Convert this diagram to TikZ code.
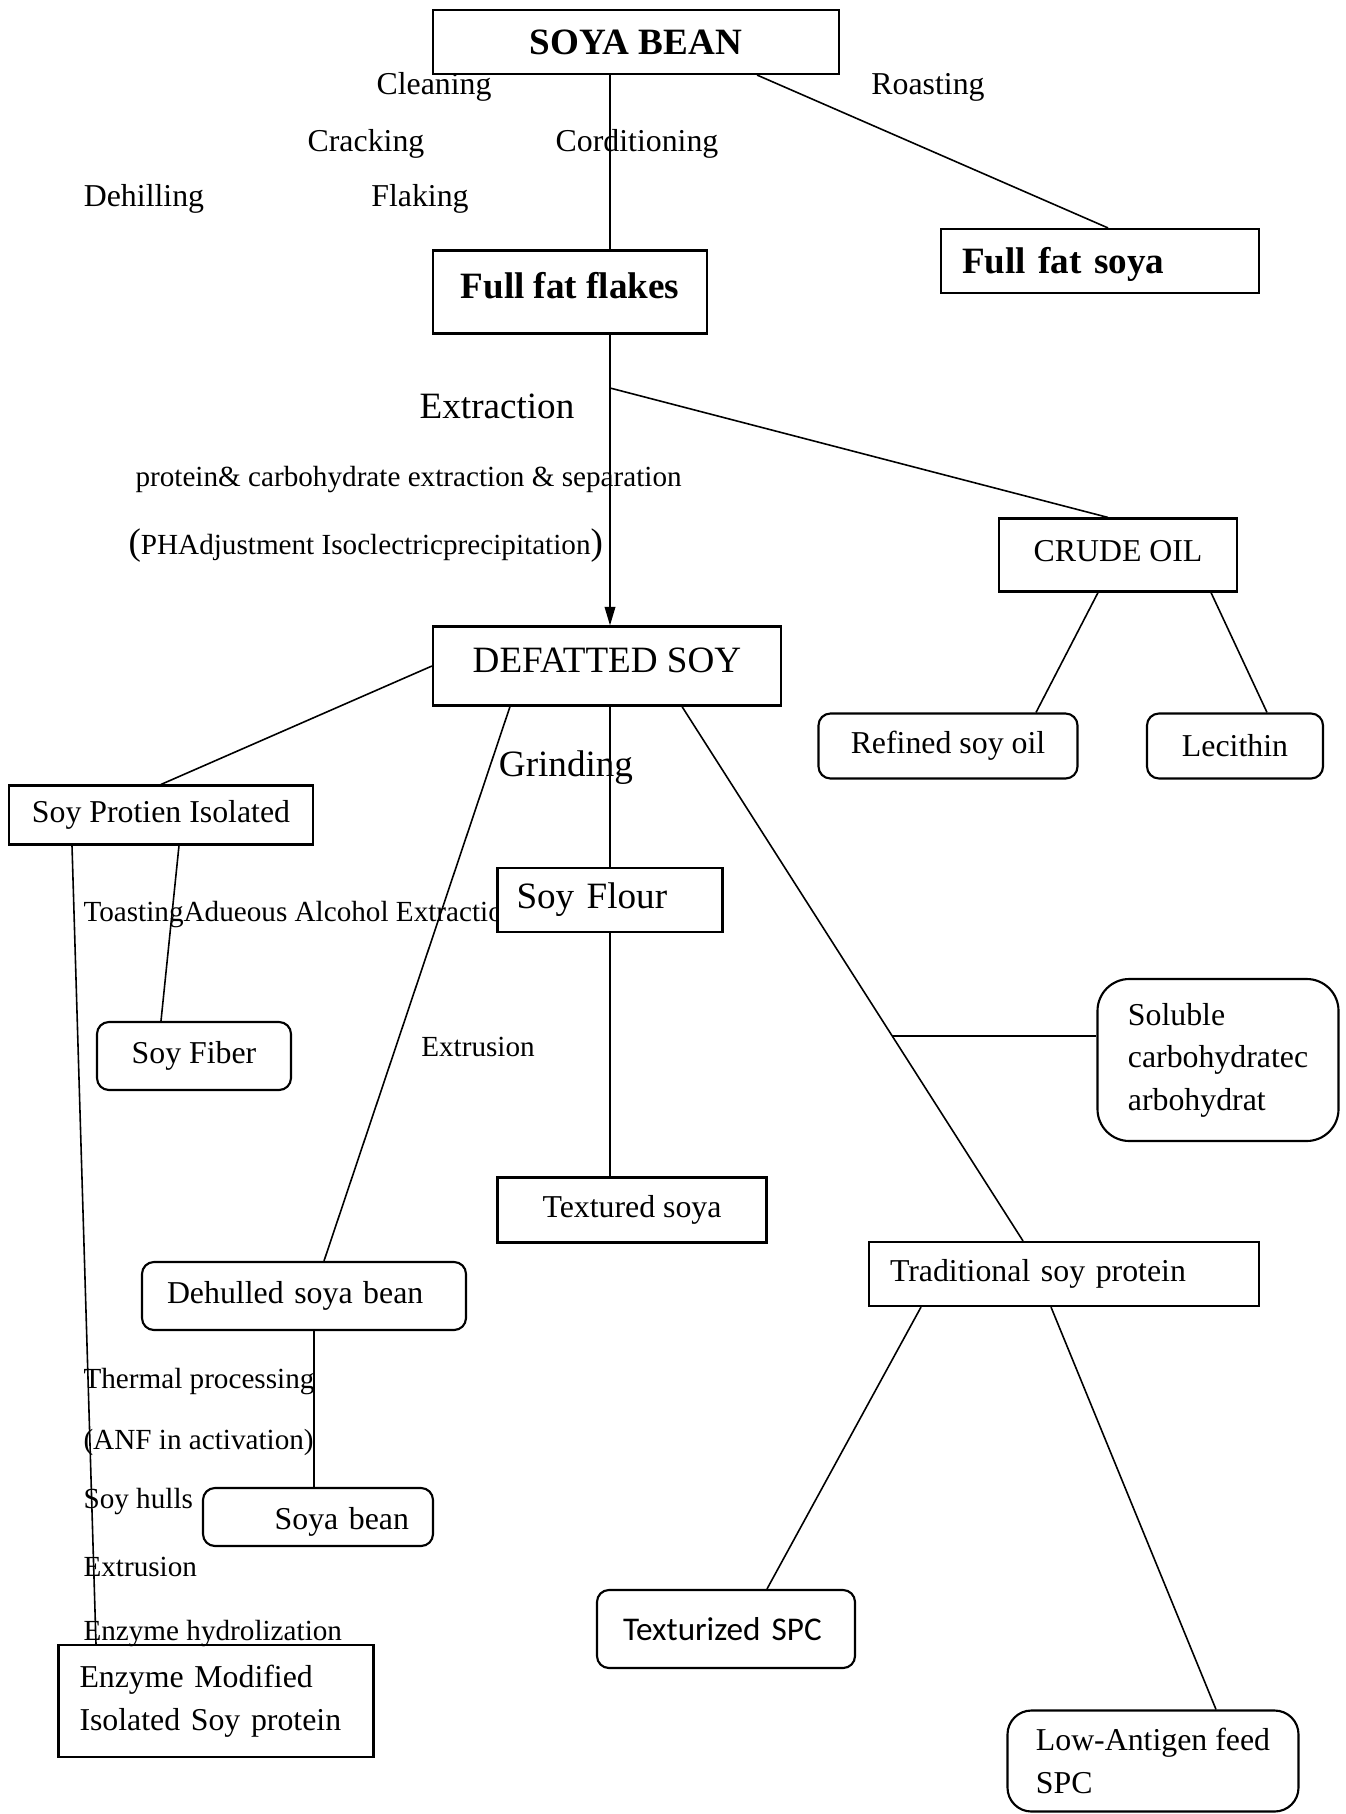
\documentclass[tikz,border=0pt]{standalone}
\usepackage{fontspec}
\setmainfont{Liberation Serif}
\newfontfamily\calfont{Carlito}
\usepackage{tikz}
\usetikzlibrary{arrows.meta, positioning, calc}
\newlength\pxl
\setlength\pxl{0.377pt}

\begin{document}
\begin{tikzpicture}[x=0.377pt, y=-0.377pt,
  box/.style={rectangle, draw, line width=0.8pt, inner sep=0pt, align=center, font=\fontsize{12}{15}\selectfont},
  rbox/.style={box, rounded corners=4.5pt},
  bigbold/.style={font=\bfseries\fontsize{14}{17}\selectfont},
  big/.style={font=\fontsize{14}{17}\selectfont},
  lbl/.style={inner sep=0pt, font=\fontsize{12}{15}\selectfont},
  small/.style={lbl, font=\fontsize{11}{14}\selectfont},
  link/.style={line width=0.6pt}]
  \useasboundingbox (0,0) rectangle (1346,1814);

  \node[lbl] (clean) at (434,87) {Cleaning};
  \node[lbl] (roast) at (928,87) {Roasting};
  \node[lbl] (crack) at (366,144) {Cracking};
  \node[lbl] (cond) at (637,144) {Corditioning};
  \node[lbl] (dehill) at (144,199) {Dehilling};
  \node[lbl] (flake) at (420,199) {Flaking};
  \node[lbl, big] (extr) at (497,406) {Extraction};
  \node[small, anchor=west] (sep) at (135,480) {protein\& carbohydrate extraction \& separation};
  \node[small, anchor=west] (ph) at (128,546) {{\fontsize{14}{17}\selectfont(}PHAdjustment Isoclectricprecipitation{\fontsize{14}{17}\selectfont)}};
  \node[lbl, big] (grind) at (566,768) {Grinding};
  \node[small, anchor=west] (toast) at (83,915) {ToastingAdueous Alcohol Extraction};
  \node[small] (extru) at (478,1047) {Extrusion};
  \node[small, anchor=west] (therm) at (83,1382) {Thermal processing};
  \node[small, anchor=west] (anf) at (83,1442) {(ANF in activation)};
  \node[small, anchor=west] (hulls) at (83,1502) {Soy hulls};
  \node[small, anchor=west] (extru2) at (83,1567) {Extrusion};
  \node[small, anchor=west] (hydro) at (83,1634) {Enzyme hydrolization};

  \node[box, bigbold, minimum width=406\pxl, minimum height=64\pxl] (soya) at (636,42) {SOYA BEAN};
  \node[box, bigbold, text depth=5.2pt, minimum width=274\pxl, minimum height=83\pxl] (fflakes) at (570,292) {Full fat flakes};
  \node[box, bigbold, text height=12.5pt, align=left, text width=276\pxl, inner xsep=21\pxl, minimum height=64\pxl] (ffsoya) at (1100,261) {Full fat soya};
  \node[box, text depth=3.4pt, minimum width=238\pxl, minimum height=73\pxl] (crude) at (1118,555) {CRUDE OIL};
  \node[rbox, minimum width=259\pxl, minimum height=65\pxl] (refined) at (948,746) {Refined soy oil};
  \node[rbox, minimum width=176\pxl, minimum height=65\pxl] (lecithin) at (1235,746) {Lecithin};
  \node[box, big, text depth=4.4pt, minimum width=348\pxl, minimum height=79\pxl] (defat) at (607,666) {DEFATTED SOY};
  \node[box, minimum width=304\pxl, minimum height=59\pxl] (spi) at (161,815) {Soy Protien Isolated};
  \node[rbox, minimum width=194\pxl, minimum height=68\pxl] (fiber) at (194,1056) {Soy Fiber};
  \node[box, big, fill=white, align=left, text width=187\pxl, inner xsep=19\pxl, minimum height=64\pxl] (flour) at (610,900) {Soy Flour};
  \node[box, minimum width=269\pxl, minimum height=65\pxl] (textured) at (632,1210) {Textured soya};
  \node[rbox, align=left, text width=274\pxl, inner xsep=25\pxl, minimum height=68\pxl] (dehulled) at (304,1296) {Dehulled soya bean};
  \node[rbox, text height=12pt, align=right, text width=182\pxl, inner xsep=24\pxl, minimum height=58\pxl] (bean) at (318,1517) {Soya bean};
  \node[box, align=left, text width=273\pxl, inner xsep=21\pxl, minimum height=112\pxl, font=\fontsize{12}{16}\selectfont] (enzyme) at (216,1701) {Enzyme Modified\\Isolated Soy protein};
  \node[rbox, rounded corners=12pt, align=left, minimum width=241\pxl, minimum height=162\pxl, font=\fontsize{12}{16}\selectfont] (soluble) at (1218,1060) {Soluble\\carbohydratec\\arbohydrat};
  \node[box, align=left, text width=348\pxl, inner xsep=21\pxl, minimum height=64\pxl] (trad) at (1064,1274) {Traditional soy protein};
  \node[rbox, font=\calfont\fontsize{12.5}{15}\selectfont, align=left, text width=206\pxl, inner xsep=26\pxl, minimum height=78\pxl] (tspc) at (726,1629) {Texturized SPC};
  \node[rbox, rounded corners=9pt, align=left, minimum width=291\pxl, minimum height=101\pxl, font=\fontsize{12}{16}\selectfont] (lowag) at (1153,1761) {Low-Antigen feed\\SPC};

  \coordinate (spine) at (610,0);
  \coordinate (ext) at (610,388);
  \draw[link] (soya.south -| spine) -- (fflakes.north -| spine);
  \draw[link] ([xshift=-83\pxl]soya.south east) -- ([xshift=8\pxl]ffsoya.north);
  \draw[link, -{Triangle[length=7pt, width=4pt]}] (fflakes.south -| spine) -- (defat.north -| spine);
  \draw[link] (ext) -- ([xshift=-10\pxl]crude.north);
  \draw[link] ([xshift=-20\pxl]crude.south) -- ([xshift=88\pxl]refined.north);
  \draw[link] ([xshift=93\pxl]crude.south) -- ([xshift=32\pxl]lecithin.north);
  \draw[link] (defat.west) -- (spi.north);
  \draw[link] ([xshift=18\pxl]spi.south) -- ([xshift=-33\pxl]fiber.north);
  \draw[link] ([xshift=-89\pxl]spi.south) -- ([xshift=-120\pxl]enzyme.north);
  \draw[link] (defat.south -| spine) -- (flour.north -| spine);
  \draw[link] (flour.south -| spine) -- (textured.north -| spine);
  \draw[link] ([xshift=-97\pxl]defat.south) -- ([xshift=20\pxl]dehulled.north);
  \draw[link] ([xshift=10\pxl]dehulled.south) -- ([xshift=-4\pxl]bean.north);
  \draw[link] ([xshift=75\pxl]defat.south) -- coordinate[pos=0.616] (branch) ([xshift=-41\pxl]trad.north);
  \draw[link] (branch) -- (soluble.west |- branch);
  \draw[link] ([xshift=-143\pxl]trad.south) -- ([xshift=41\pxl]tspc.north);
  \draw[link] ([xshift=-13\pxl]trad.south) -- ([xshift=63\pxl]lowag.north);
\end{tikzpicture}
\end{document}
